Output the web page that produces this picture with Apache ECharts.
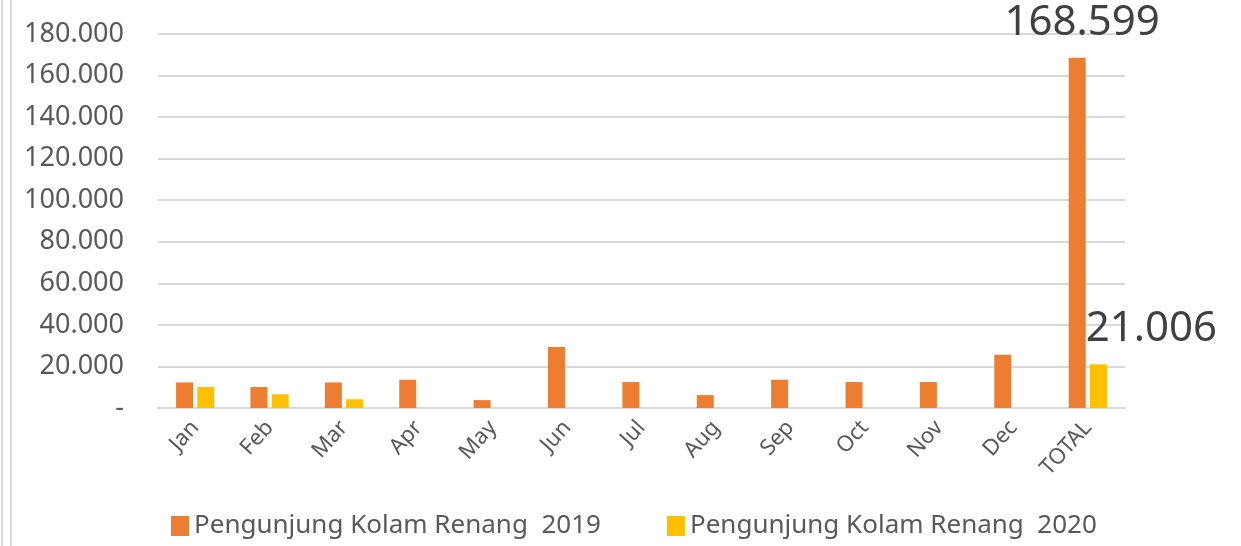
<!DOCTYPE html>
<html>
<head>
<meta charset="utf-8">
<script src="https://cdn.jsdelivr.net/npm/echarts@6/dist/echarts.min.js"></script>
<style>
  html, body { margin: 0; padding: 0; background: #fff; }
  #main { width: 1241px; height: 546px; }
</style>
</head>
<body>
<div id="main"></div>
<script>
var months = ['Jan', 'Feb', 'Mar', 'Apr', 'May', 'Jun', 'Jul', 'Aug', 'Sep', 'Oct', 'Nov', 'Dec', 'TOTAL'];
var visitors2019 = [12300, 10100, 12300, 13600, 3800, 29300, 12500, 6200, 13600, 12500, 12500, 25600, 168599];
var visitors2020 = [10100, 6600, 4200, null, null, null, null, null, null, null, null, null, 21006];
var seriesNames = ['Pengunjung Kolam Renang  2019', 'Pengunjung Kolam Renang  2020'];

var fontFam = '"Noto Sans", "Open Sans", sans-serif';

function fmt(v) {
  if (v === 0) return '-';
  return String(Math.round(v)).replace(/\B(?=(\d{3})+(?!\d))/g, '.');
}

// only the TOTAL bars carry a value label
function withTotalLabel(values, offset) {
  return values.map(function (v, i) {
    if (i !== values.length - 1) return v;
    return {
      value: v,
      label: {
        show: true,
        position: 'top',
        distance: 14,
        offset: offset,
        fontSize: 42,
        fontFamily: fontFam,
        color: '#404040',
        formatter: function (p) { return fmt(p.value); }
      }
    };
  });
}

var chart = echarts.init(document.getElementById('main'));
var option = {
  animation: false,
  color: ['#ED7D31', '#FFC000'],
  grid: { left: 158, right: 116, top: 34, bottom: 138, containLabel: false },
  legend: {
    bottom: 2,
    left: 166,
    itemWidth: 18,
    itemHeight: 20,
    itemGap: 66,
    icon: 'rect',
    textStyle: { fontSize: 26, color: '#595959', fontFamily: fontFam },
    data: seriesNames
  },
  xAxis: {
    type: 'category',
    data: months,
    axisTick: { show: false },
    axisLine: { lineStyle: { color: '#d9d9d9', width: 2 } },
    axisLabel: { rotate: 48, fontSize: 22, color: '#595959', margin: 16, fontFamily: fontFam }
  },
  yAxis: {
    type: 'value',
    min: 0,
    max: 180000,
    interval: 20000,
    axisLine: { show: false },
    axisTick: { show: false },
    splitLine: { lineStyle: { color: '#d9d9d9', width: 2 } },
    axisLabel: { fontSize: 27, color: '#595959', margin: 34, fontFamily: fontFam, formatter: fmt }
  },
  graphic: [
    { type: 'line', shape: { x1: 2, y1: 0, x2: 2, y2: 546 }, style: { stroke: '#d9d9d9', lineWidth: 2 } },
    { type: 'line', shape: { x1: 11, y1: 0, x2: 11, y2: 546 }, style: { stroke: '#d9d9d9', lineWidth: 2 } }
  ],
  series: [
    {
      name: seriesNames[0],
      type: 'bar',
      barWidth: 17,
      barGap: '25%',
      data: withTotalLabel(visitors2019, [5, 0])
    },
    {
      name: seriesNames[1],
      type: 'bar',
      barWidth: 17,
      data: withTotalLabel(visitors2020, [53, 0])
    }
  ]
};
chart.setOption(option);
</script>
</body>
</html>
